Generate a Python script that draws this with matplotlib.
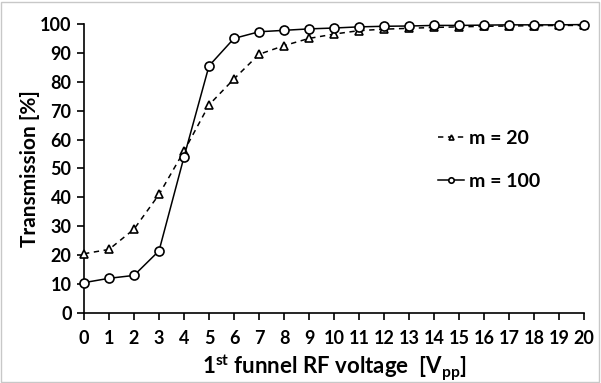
import numpy as np
import matplotlib
matplotlib.use("Agg")
import matplotlib.pyplot as plt

# data
voltage = list(range(0, 21))
m20 = [20.5, 22, 29, 41, 56, 72, 81, 89.5, 92.5, 95, 96.5, 97.7, 98.2, 98.5, 98.8,
       99.0, 99.2, 99.3, 99.4, 99.5, 99.5]
m100 = [10.5, 12, 13, 21.5, 54, 85.5, 95, 97.3, 97.8, 98.3, 98.6, 99.0, 99.2, 99.3, 99.5,
        99.5, 99.6, 99.7, 99.7, 99.7, 99.8]
xticks = list(range(0, 21))
yticks = list(range(0, 101, 10))

plt.rcParams['font.family'] = ['Lato', 'DejaVu Sans']
plt.rcParams['font.weight'] = 'bold'

fig = plt.figure(figsize=(6.01, 3.83), dpi=100)
ax = fig.add_axes([0.1398, 0.1828, 0.8319, 0.7546])

ax.plot(voltage, m20, ls=(0, (3.5, 3)), color='black', lw=1.1, marker='^', ms=6,
        mfc='white', mec='black', mew=1.2, clip_on=False, label='m = 20', zorder=3)
ax.plot(voltage, m100, ls='-', color='black', lw=1.1, marker='o', ms=6.5,
        mfc='white', mec='black', mew=1.2, clip_on=False, label='m = 100', zorder=3)

ax.set_xlim(0, 20)
ax.set_ylim(0, 100)
ax.set_xticks(xticks)
ax.set_yticks(yticks)
ax.tick_params(axis='both', direction='out', length=5, width=1.2, labelsize=13, pad=4)
ax.tick_params(axis='x', pad=7)
for s in ['top', 'right']:
    ax.spines[s].set_visible(False)
for s in ['left', 'bottom']:
    ax.spines[s].set_linewidth(1.2)

ax.set_xlabel(r'1$^{\mathregular{st}}$ funnel RF voltage  [V$_{\mathregular{pp}}$]', fontsize=16,
              fontweight='bold', labelpad=4)
ax.set_ylabel('Transmission [%]', fontsize=15, fontweight='bold')
ax.yaxis.set_label_coords(-0.088, 0.5)

leg = ax.legend(loc='center left', bbox_to_anchor=(0.672, 0.53), frameon=False, fontsize=14,
                handlelength=1.35, handletextpad=0.25, labelspacing=1.35, markerscale=0.6)

# thin grey frame around the figure
fig.patches.append(plt.Rectangle((0.002, 0.003), 0.995, 0.993, transform=fig.transFigure,
                                 fill=False, edgecolor='#c8c8c8', lw=1))

fig.savefig('out.png', dpi=100)
